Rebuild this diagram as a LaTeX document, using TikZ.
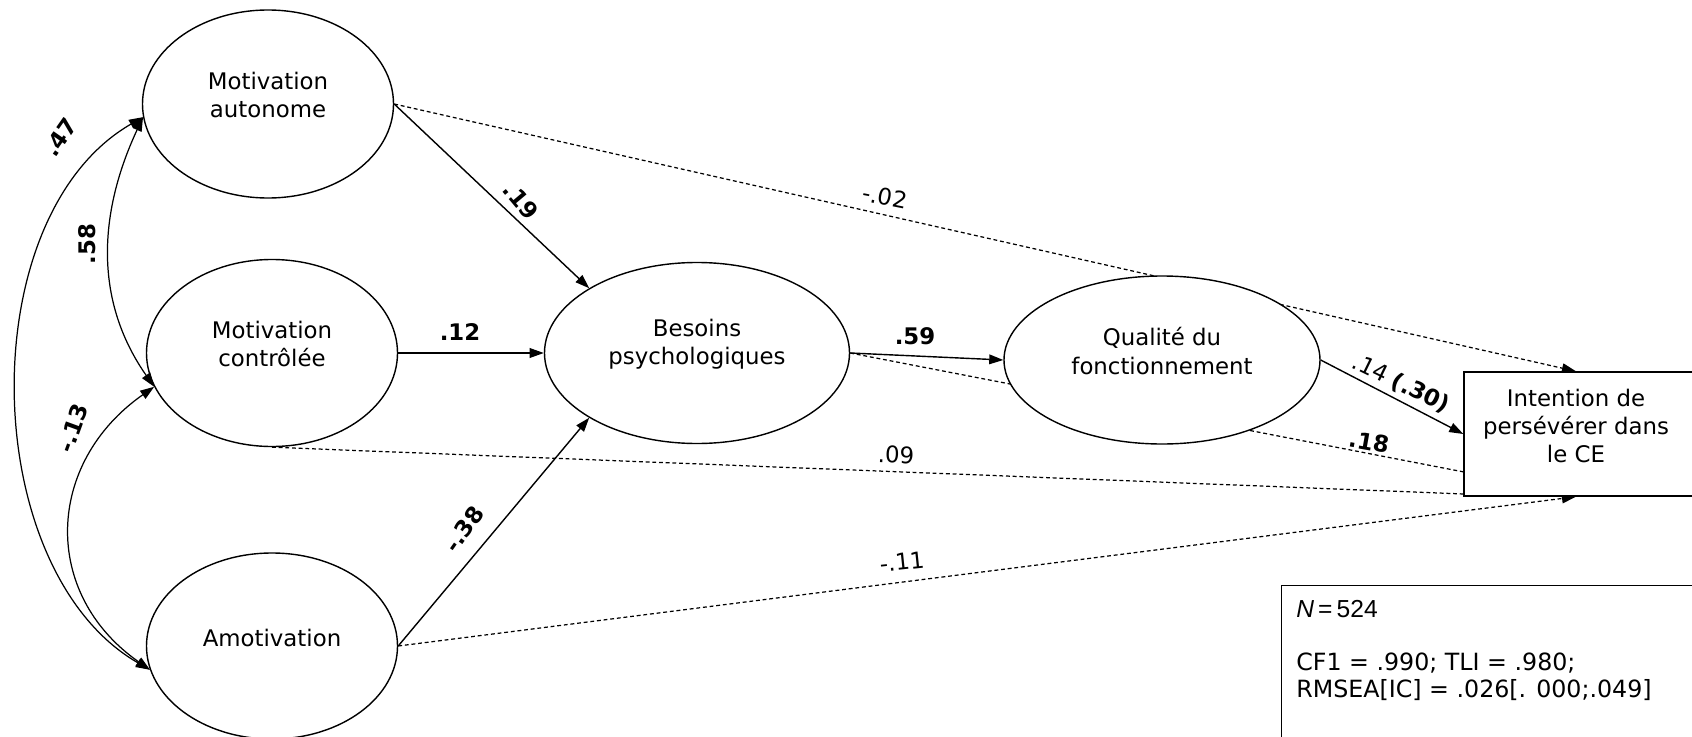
\documentclass[tikz,border=0pt]{standalone}
\usepackage{fontspec}
\setmainfont{DejaVu Sans}
\newfontfamily\arialfont{Liberation Sans}
\usetikzlibrary{shapes.geometric, arrows.meta, backgrounds}

\begin{document}
\begin{tikzpicture}[x=0.2mm, y=-0.2mm,
    font=\fontsize{13pt}{16pt}\selectfont,
    latent/.style={ellipse, draw, fill=white, line width=0.8pt, inner sep=0pt},
    observed/.style={rectangle, draw, fill=white, line width=0.8pt,
      minimum width=4.72cm, minimum height=2.48cm},
    varname/.style={align=center, inner sep=0pt},
    effect/.style={line width=0.8pt, -{Triangle[length=8pt, width=5.5pt]}},
    nseffect/.style={line width=0.7pt, dash pattern=on 2.2pt off 1.6pt},
    corr/.style={line width=0.7pt,
      {Triangle[length=8pt, width=5.5pt]}-{Triangle[length=8pt, width=5.5pt]}},
    coef/.style={font=\fontsize{13pt}{16pt}\selectfont\bfseries, inner sep=1pt},
    coefn/.style={inner sep=1pt}]

    \useasboundingbox (0,0) rectangle (1692,737);
    \clip (0,0) rectangle (1692,737);

    % Motivations
    \node[latent, minimum width=5.02cm, minimum height=3.76cm] (auto) at (268,104) {};
    \node[latent, minimum width=5.02cm, minimum height=3.74cm] (ctrl) at (272,353) {};
    \node[latent, minimum width=5.02cm, minimum height=3.72cm] (amot) at (272,646) {};

    % Mediators and outcome
    \node[latent, minimum width=6.1cm, minimum height=3.62cm] (besoins) at (697,353) {};
    \node[latent, minimum width=6.32cm, minimum height=3.36cm] (qualite) at (1162,360) {};
    \node[observed] (intent) at (1582,434) {};

    % Names of the variables
    \node[varname] (auto-t) at ([yshift=1.8mm]auto.center) {Motivation\\autonome};
    \node[varname] (ctrl-t) at ([yshift=1.8mm]ctrl.center) {Motivation\\contrôlée};
    \node[varname] (amot-t) at ([yshift=1.6mm]amot.center) {Amotivation};
    \node[varname] (besoins-t) at ([yshift=1.8mm]besoins.center) {Besoins\\psychologiques};
    \node[varname] (qualite-t) at ([yshift=1.8mm]qualite.center) {Qualité du\\fonctionnement};
    \node[varname] (intent-t) at (1576,426) {Intention de\\persévérer dans\\le CE};

    % Non significant paths, behind the ellipses
    \begin{scope}[on background layer]
      \draw[nseffect, -{Triangle[length=8pt, width=5.5pt]}] (auto.east) -- ([xshift=-1.2mm]intent.north);
      \draw[nseffect] (besoins.east) -- (1464,472);
      \draw[nseffect] (ctrl.south) -- (1464,494);
      \draw[nseffect, -{Triangle[length=8pt, width=5.5pt]}] (amot.east) -- ([xshift=-1.2mm]intent.south);
    \end{scope}

    % Direct effects
    \draw[effect] (auto.east) -- (besoins.149);
    \draw[effect] (ctrl.east) -- (besoins.west);
    \draw[effect] (amot.east) -- (besoins.211);
    \draw[effect] (besoins.east) -- (qualite.west);
    \draw[effect] (qualite.east) -- (intent.west);

    % Correlations between motivations
    \draw[corr] (auto.186) to[out=245, in=125] (ctrl.196);
    \draw[corr] (ctrl.196) to[out=215, in=145, looseness=1.2] (amot.191);
    \draw[corr] (auto.186) to[out=210, in=150, looseness=0.92] (amot.191);

    % Coefficients
    \node[coef, rotate=55] (c47) at (60,137) {.47};
    \node[coef, rotate=90] (c58) at (87,244) {.58};
    \node[coef, rotate=70] (c13) at (73,428) {-.13};
    \node[coef, rotate=-50] (c19) at (521,201) {.19};
    \node[coef] (c12) at (460,332) {.12};
    \node[coef, rotate=55] (c38) at (464,529) {-.38};
    \node[coef] (c59) at (915,336) {.59};
    \node[coefn, rotate=-11] (c02) at (885,197) {-.02};
    \node[coefn, rotate=-2] (c09) at (896,455) {.09};
    \node[coefn, rotate=6] (c11) at (902,562) {-.11};
    \node[coefn, rotate=-26] (c14) at (1401,384) {.14 \textbf{(.30)}};
    \node[coef, rotate=-10] (c18) at (1369,442) {.18};

    % Fit indices
    \node[draw, line width=0.8pt, anchor=north west, minimum width=9cm,
      minimum height=4cm] (fit) at (1281,585) {};
    \node[anchor=west, inner sep=0pt, font=\arialfont\fontsize{14pt}{16pt}\selectfont]
      (fit-n) at (1296,609) {\textit{N}\,=\,524};
    \node[anchor=west, align=left, inner sep=0pt,
      font=\fontsize{13.5pt}{15.4pt}\selectfont] (fit-i) at (1296,677)
      {CF1 = .990; TLI = .980;\\RMSEA[IC] = .026[. 000;.049]};

\end{tikzpicture}
\end{document}
